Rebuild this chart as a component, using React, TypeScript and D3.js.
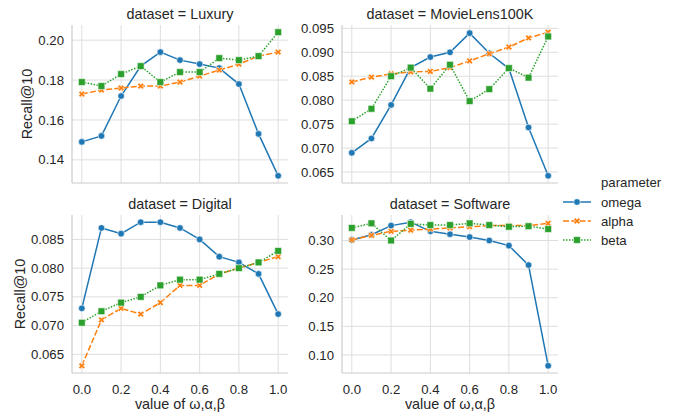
import * as React from "react";
import * as d3 from "d3";

const X_VALUES = [0, 0.1, 0.2, 0.3, 0.4, 0.5, 0.6, 0.7, 0.8, 0.9, 1.0];
const X_TICKS = [0, 0.2, 0.4, 0.6, 0.8, 1.0];
const PARAMS = ["omega", "alpha", "beta"];

const luxuryOmega = [0.149, 0.152, 0.172, 0.187, 0.194, 0.19, 0.188, 0.186, 0.178, 0.153, 0.132];
const luxuryAlpha = [0.173, 0.175, 0.176, 0.177, 0.177, 0.179, 0.182, 0.185, 0.188, 0.192, 0.194];
const luxuryBeta = [0.179, 0.177, 0.183, 0.187, 0.179, 0.184, 0.184, 0.191, 0.19, 0.192, 0.204];

const movieOmega = [0.069, 0.072, 0.079, 0.0868, 0.089, 0.09, 0.094, 0.0898, 0.0866, 0.0743, 0.0642];
const movieAlpha = [0.0838, 0.0848, 0.0855, 0.0859, 0.086, 0.0868, 0.0882, 0.0897, 0.0911, 0.093, 0.0942];
const movieBeta = [0.0756, 0.0782, 0.085, 0.0868, 0.0824, 0.0874, 0.0798, 0.0823, 0.0867, 0.0847, 0.0933];

const digitalOmega = [0.073, 0.087, 0.086, 0.088, 0.088, 0.087, 0.085, 0.082, 0.081, 0.079, 0.072];
const digitalAlpha = [0.063, 0.071, 0.073, 0.072, 0.074, 0.077, 0.077, 0.079, 0.08, 0.081, 0.082];
const digitalBeta = [0.0705, 0.0725, 0.074, 0.075, 0.077, 0.078, 0.078, 0.079, 0.08, 0.081, 0.083];

const softwareOmega = [0.301, 0.31, 0.326, 0.332, 0.316, 0.311, 0.306, 0.3, 0.291, 0.257, 0.081];
const softwareAlpha = [0.301, 0.309, 0.316, 0.318, 0.32, 0.322, 0.324, 0.326, 0.326, 0.326, 0.33];
const softwareBeta = [0.322, 0.33, 0.3, 0.329, 0.327, 0.327, 0.33, 0.327, 0.324, 0.325, 0.32];

const luxuryTicks = [0.14, 0.16, 0.18, 0.2];
const movieTicks = [0.065, 0.07, 0.075, 0.08, 0.085, 0.09, 0.095];
const digitalTicks = [0.065, 0.07, 0.075, 0.08, 0.085];
const softwareTicks = [0.1, 0.15, 0.2, 0.25, 0.3];

const COLORS: Record<string, string> = { omega: "#1f77b4", alpha: "#ff7f0e", beta: "#2ca02c" };
const DASHES: Record<string, string | undefined> = { omega: undefined, alpha: "6 2.25", beta: "1.5 1.5" };

const FONT = "'Liberation Sans', Arial, sans-serif";
const TEXT = "#262626";
const GRID = "#dedede";

const PANELS = [
  { name: "Luxury", series: [luxuryOmega, luxuryAlpha, luxuryBeta], ticks: luxuryTicks, fmt: ".2f", left: 72, top: 25, row: 0, col: 0 },
  { name: "MovieLens100K", series: [movieOmega, movieAlpha, movieBeta], ticks: movieTicks, fmt: ".3f", left: 342, top: 25, row: 0, col: 1 },
  { name: "Digital", series: [digitalOmega, digitalAlpha, digitalBeta], ticks: digitalTicks, fmt: ".3f", left: 72, top: 215, row: 1, col: 0 },
  { name: "Software", series: [softwareOmega, softwareAlpha, softwareBeta], ticks: softwareTicks, fmt: ".2f", left: 342, top: 215, row: 1, col: 1 },
];

const PW = 216;
const PH = 158;

function Marker({ kind, x, y }: { kind: string; x: number; y: number }) {
  const c = COLORS[kind];
  if (kind === "omega") {
    return <circle cx={x} cy={y} r={3.3} fill={c} stroke="#fff" strokeWidth={0.6} />;
  }
  if (kind === "alpha") {
    const p = d3.symbol(d3.symbolCross, 26)() ?? "";
    return <path d={p} transform={`translate(${x},${y}) rotate(45)`} fill={c} stroke="#fff" strokeWidth={0.6} />;
  }
  const s = d3.symbol(d3.symbolSquare, 46)() ?? "";
  return <path d={s} transform={`translate(${x},${y})`} fill={c} stroke="#fff" strokeOpacity={0.55} strokeWidth={1} />;
}

function Panel({ p }: { p: (typeof PANELS)[number] }) {
  const x = d3.scaleLinear().domain([-0.05, 1.05]).range([0, PW]);
  const all = p.series.flat();
  const lo = d3.min(all)!;
  const hi = d3.max(all)!;
  const pad = (hi - lo) * 0.05;
  const y = d3.scaleLinear().domain([lo - pad, hi + pad]).range([PH, 0]);
  const fmt = d3.format(p.fmt);
  const line = d3
    .line<number>()
    .x((_, i) => x(X_VALUES[i]))
    .y((v) => y(v));

  return (
    <g transform={`translate(${p.left},${p.top})`}>
      {X_TICKS.map((t) => (
        <line key={`xg${t}`} x1={x(t)} x2={x(t)} y1={0} y2={PH} stroke={GRID} strokeWidth={1} />
      ))}
      {p.ticks.map((t) => (
        <line key={`yg${t}`} x1={0} x2={PW} y1={y(t)} y2={y(t)} stroke={GRID} strokeWidth={1} />
      ))}
      <line x1={0} x2={0} y1={0} y2={PH} stroke="#cccccc" strokeWidth={1.2} />
      <line x1={0} x2={PW} y1={PH} y2={PH} stroke="#cccccc" strokeWidth={1.2} />

      {p.ticks.map((t) => (
        <text key={`yt${t}`} x={-8} y={y(t)} dy="0.35em" textAnchor="end" fontSize={13.2} fill={TEXT}>
          {fmt(t)}
        </text>
      ))}
      {p.row === 1 &&
        X_TICKS.map((t) => (
          <text key={`xt${t}`} x={x(t)} y={PH + 21} textAnchor="middle" fontSize={13.2} fill={TEXT}>
            {d3.format(".1f")(t)}
          </text>
        ))}

      <text x={PW / 2} y={-6} textAnchor="middle" fontSize={14.4} fill={TEXT}>
        {`dataset = ${p.name}`}
      </text>

      {p.row === 1 && (
        <text x={PW / 2} y={PH + 36} textAnchor="middle" fontSize={14.4} fill={TEXT}>
          value of ω,α,β
        </text>
      )}
      {p.col === 0 && (
        <text
          transform={`translate(${p.row === 0 ? -40 : -47},${PH / 2}) rotate(-90)`}
          textAnchor="middle"
          fontSize={14.4}
          fill={TEXT}
        >
          Recall@10
        </text>
      )}

      {PARAMS.map((k, si) => (
        <g key={k}>
          <path
            d={line(p.series[si]) ?? ""}
            fill="none"
            stroke={COLORS[k]}
            strokeWidth={1.5}
            strokeDasharray={DASHES[k]}
          />
          {p.series[si].map((v, i) => (
            <Marker key={i} kind={k} x={x(X_VALUES[i])} y={y(v)} />
          ))}
        </g>
      ))}
    </g>
  );
}

export default function App() {
  return (
    <svg
      width={684}
      height={416}
      style={{ position: "absolute", left: 0, top: 0, background: "#fff" }}
      fontFamily={FONT}
    >
      <rect width={684} height={416} fill="#fff" />
      {PANELS.map((p) => (
        <Panel key={p.name} p={p} />
      ))}

      {/* legend */}
      <text x={601} y={187} fontSize={13.2} fill={TEXT}>
        parameter
      </text>
      {PARAMS.map((k, i) => {
        const cy = 202 + i * 19;
        return (
          <g key={k}>
            <line x1={563} x2={591} y1={cy} y2={cy} stroke={COLORS[k]} strokeWidth={1.5} strokeDasharray={DASHES[k]} />
            <Marker kind={k} x={577} y={cy} />
            <text x={601} y={cy} dy="0.35em" fontSize={13.2} fill={TEXT}>
              {k}
            </text>
          </g>
        );
      })}
    </svg>
  );
}
